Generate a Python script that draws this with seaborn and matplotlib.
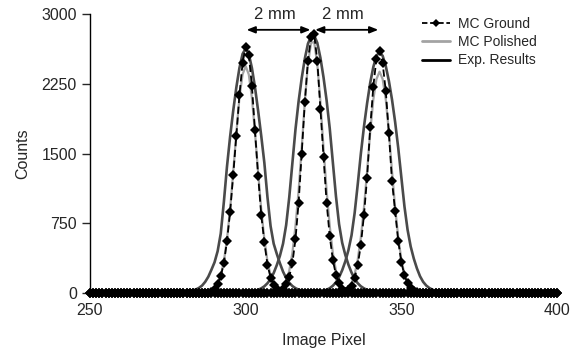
import numpy as np
import matplotlib
matplotlib.use("Agg")
import matplotlib.pyplot as plt
import seaborn as sns
from matplotlib.lines import Line2D

# image pixel axis, one sample per pixel
pixels = np.arange(250, 401)

# MC Ground (start pixel, counts)
ground_1 = (288, [5, 15, 45, 100, 183, 320, 560, 870, 1270, 1690, 2130, 2470, 2650,
                  2560, 2230, 1750, 1260, 840, 545, 305, 165, 90, 40, 15, 5])
ground_2 = (310, [5, 15, 40, 95, 175, 320, 580, 970, 1500, 2050, 2500, 2750, 2780,
                  2500, 1980, 1465, 970, 610, 355, 195, 105, 45, 15, 5])
ground_3 = (331, [4, 12, 35, 80, 160, 300, 520, 840, 1240, 1780, 2220, 2520, 2600,
                  2470, 2170, 1720, 1200, 880, 560, 330, 190, 105, 50, 20, 7])

# MC Polished
polished_1 = (287, [3, 8, 20, 48, 100, 190, 340, 580, 900, 1300, 1720, 2100, 2350, 2440,
                    2350, 2100, 1720, 1300, 900, 580, 340, 190, 100, 48, 20, 8, 3])
polished_2 = (309, [4, 10, 26, 60, 125, 240, 430, 720, 1100, 1560, 2060, 2460, 2690,
                    2700, 2460, 2060, 1560, 1100, 720, 430, 240, 125, 60, 26, 10, 4])
polished_3 = (330, [3, 8, 22, 50, 105, 200, 360, 600, 920, 1310, 1730, 2080, 2300, 2380,
                    2300, 2080, 1730, 1310, 920, 600, 360, 200, 105, 50, 22, 8, 3])

# Exp. Results
exp_1 = (276, [1, 2, 3, 5, 8, 12, 18, 26, 38, 55, 80, 120, 175, 250, 330, 450, 640, 980,
               1360, 1680, 1960, 2210, 2420, 2570, 2630, 2570, 2420, 2210, 1960, 1690,
               1400, 1030, 720, 530, 420, 320, 230, 160, 110, 75, 52, 36, 25, 17, 11,
               7, 4, 2, 1])
exp_2 = (298, [1, 3, 6, 10, 15, 23, 34, 50, 72, 105, 150, 215, 300, 400, 530, 730, 1030,
               1400, 1760, 2060, 2310, 2520, 2680, 2760, 2770, 2690, 2530, 2320, 2070,
               1770, 1410, 1040, 740, 540, 410, 305, 220, 150, 105, 72, 50, 34, 23, 15,
               10, 6, 3, 1])
exp_3 = (320, [1, 3, 6, 10, 15, 23, 35, 52, 78, 115, 170, 245, 340, 460, 620, 860, 1170,
               1500, 1790, 2040, 2260, 2430, 2550, 2590, 2550, 2440, 2280, 2080, 1840,
               1560, 1240, 930, 680, 500, 370, 265, 180, 120, 80, 54, 36, 24, 16, 10,
               6, 3, 1])

y_ticks = [0, 750, 1500, 2250, 3000]
x_ticks = [250, 300, 350, 400]


def full_curve(curve):
    start, vals = curve
    out = np.zeros(len(pixels))
    out[start - 250:start - 250 + len(vals)] = vals
    return out


sns.set_style("white")
plt.rcParams["font.family"] = ["Liberation Sans", "DejaVu Sans"]

fig = plt.figure(figsize=(5.78, 3.52), dpi=100)
ax = fig.add_axes([0.1557, 0.1676, 0.808, 0.7926])

for c in [polished_1, polished_2, polished_3]:
    sns.lineplot(x=pixels, y=full_curve(c), ax=ax, color="#a3a3a3", lw=1.6, zorder=2)
for c in [exp_1, exp_2, exp_3]:
    sns.lineplot(x=pixels, y=full_curve(c), ax=ax, color="#4a4a4a", lw=1.9, zorder=3)
for c in [ground_1, ground_2, ground_3]:
    sns.lineplot(x=pixels, y=full_curve(c), ax=ax, color="black", lw=1.3,
                 linestyle=(0, (4, 2)), marker="D", markersize=5.5,
                 markeredgewidth=0, clip_on=False, zorder=4)

ax.set_xlim(250, 400)
ax.set_ylim(0, 3000)
ax.set_xticks(x_ticks)
ax.set_yticks(y_ticks)
ax.tick_params(axis="x", length=0, pad=7, labelsize=11.5)
ax.tick_params(axis="y", length=5.5, width=1, direction="out", pad=4, labelsize=11.5,
               left=True)
for side in ["top", "right", "bottom"]:
    ax.spines[side].set_visible(False)
ax.spines["left"].set_color("black")
ax.spines["left"].set_linewidth(1)
ax.set_xlabel("Image Pixel", fontsize=11.5, labelpad=11)
ax.set_ylabel("Counts", fontsize=11.5, labelpad=8)

# 2 mm spacing arrows
arrow = dict(arrowstyle="<|-|>,head_length=0.5,head_width=0.2", color="black", lw=1.3,
             shrinkA=0, shrinkB=0)
ax.annotate("", xy=(300.3, 2830), xytext=(320.8, 2830), arrowprops=arrow)
ax.annotate("", xy=(322.3, 2830), xytext=(342.6, 2830), arrowprops=arrow)
ax.text(309.3, 2990, "2 mm", ha="center", va="center", fontsize=12)
ax.text(331.2, 2990, "2 mm", ha="center", va="center", fontsize=12)

handles = [
    Line2D([], [], color="black", lw=1.3, linestyle=(0, (3, 1.5)), marker="D",
           markersize=4.5, markeredgewidth=0),
    Line2D([], [], color="#a3a3a3", lw=2),
    Line2D([], [], color="black", lw=2),
]
ax.legend(handles, ["MC Ground", "MC Polished", "Exp. Results"], loc="upper left",
          bbox_to_anchor=(0.70, 1.009), borderaxespad=0, frameon=False, fontsize=10,
          handlelength=1.95, handletextpad=0.6, labelspacing=0.3, numpoints=1)

fig.savefig("out.png", dpi=100)
